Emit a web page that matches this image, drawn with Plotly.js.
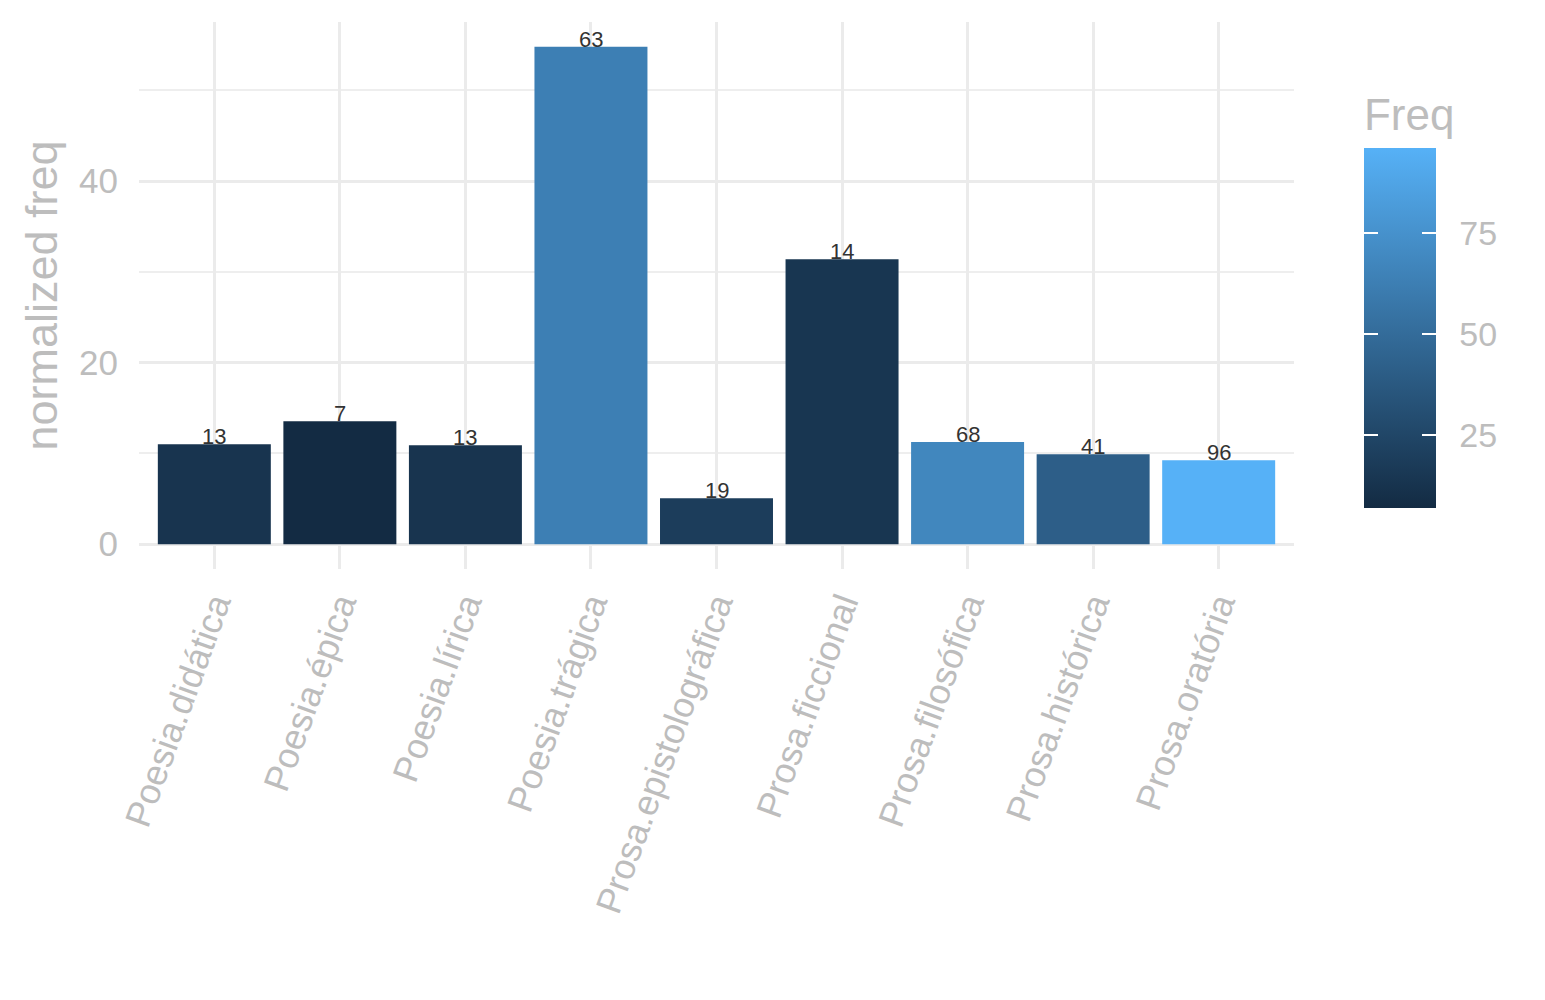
<!DOCTYPE html>
<html>
<head>
<meta charset="utf-8">
<script src="https://cdn.plot.ly/plotly-3.0.1.min.js"></script>
<style>
  html, body { margin: 0; padding: 0; background: #fff; }
  #chart { width: 1545px; height: 1000px; }
</style>
</head>
<body>
<div id="chart"></div>
<script>
// genres on the x axis
const genres = ['Poesia.didática', 'Poesia.épica', 'Poesia.lírica', 'Poesia.trágica',
  'Prosa.epistolográfica', 'Prosa.ficcional', 'Prosa.filosófica', 'Prosa.histórica', 'Prosa.oratória'];
// bar heights (normalized freq)
const normFreq = [11.0, 13.55, 10.9, 54.8, 5.05, 31.4, 11.25, 9.9, 9.25];
// raw counts, used for fill colour and the labels over the bars
const freq = [13, 7, 13, 63, 19, 14, 68, 41, 96];
const yTicks = [0, 20, 40];
const yMinor = [10, 30, 50];
const cbTicks = [25, 50, 75];

const grey = '#BDBDBD';
const font = 'Liberation Sans, Arial, sans-serif';
const scale = [[0, '#132B43'], [1, '#56B1F7']];
const cmin = Math.min(...freq);
const cmax = Math.max(...freq);

const bars = {
  type: 'bar',
  x: genres,
  y: normFreq,
  width: 0.9,
  marker: {
    color: freq,
    colorscale: scale,
    cmin: cmin,
    cmax: cmax,
    showscale: true,
    line: { width: 0 },
    colorbar: {
      title: { text: 'Freq', side: 'top', font: { size: 44, color: grey, family: font } },
      thickness: 72,
      len: 414,
      lenmode: 'pixels',
      x: 1.0606,
      xanchor: 'left',
      xpad: 0,
      y: 0.49,
      yanchor: 'middle',
      ypad: 0,
      outlinewidth: 0,
      tickvals: cbTicks,
      // transparent outside ticks just push the labels away from the bar
      ticks: 'outside',
      ticklen: 17,
      tickcolor: 'rgba(0,0,0,0)',
      tickfont: { size: 34, color: grey, family: font },
    },
  },
  hoverinfo: 'x+y',
};

// invisible copies of the points, only there to draw thin strips of the
// colour bar carrying the white ticks on each edge (as ggplot does)
function tickStrip(xPos) {
  return {
    type: 'scatter',
    mode: 'markers',
    x: genres,
    y: normFreq,
    hoverinfo: 'skip',
    marker: {
      size: 1,
      opacity: 0,
      color: freq,
      colorscale: scale,
      cmin: cmin,
      cmax: cmax,
      showscale: true,
      colorbar: {
        thickness: 14,
        len: 360,
        lenmode: 'pixels',
        x: xPos,
        xanchor: 'left',
        xpad: 0,
        y: 0.4406,
        yanchor: 'middle',
        ypad: 0,
        outlinewidth: 0,
        tickvals: cbTicks,
        showticklabels: false,
        ticks: 'inside',
        ticklen: 14,
        tickwidth: 2,
        tickcolor: '#fff',
      },
    },
  };
}

// count labels sitting on top of each bar
const labels = genres.map((g, i) => ({
  x: g,
  y: normFreq[i],
  text: String(freq[i]),
  showarrow: false,
  yanchor: 'bottom',
  yshift: -7,
  font: { size: 22, color: '#333333', family: font },
}));

const layout = {
  width: 1545,
  height: 1000,
  margin: { l: 138.6, r: 251, t: 22, b: 431 },
  paper_bgcolor: '#fff',
  plot_bgcolor: '#fff',
  showlegend: false,
  bargap: 0.1,
  font: { family: font, color: grey },
  xaxis: {
    type: 'category',
    range: [-0.6, genres.length - 0.4],
    tickangle: -70,
    tickfont: { size: 36, color: grey, family: font },
    showgrid: true,
    gridcolor: '#EBEBEB',
    gridwidth: 3,
    zeroline: false,
    showline: false,
    ticks: '',
    ticklabelstandoff: 6,
  },
  yaxis: {
    range: [-2.74, 57.54],
    tickvals: yTicks,
    tickfont: { size: 35, color: grey, family: font },
    showgrid: true,
    gridcolor: '#EBEBEB',
    gridwidth: 3,
    minor: { tickvals: yMinor, showgrid: true, gridcolor: '#EEEEEE', gridwidth: 2 },
    zeroline: false,
    showline: false,
    ticks: '',
    ticklabelstandoff: 20,
    title: { text: 'normalized freq', font: { size: 45, color: grey, family: font }, standoff: 7 },
  },
  annotations: labels,
};

Plotly.newPlot('chart', [bars, tickStrip(1.0606), tickStrip(1.1108)], layout,
  { displayModeBar: false, staticPlot: true });
</script>
</body>
</html>
